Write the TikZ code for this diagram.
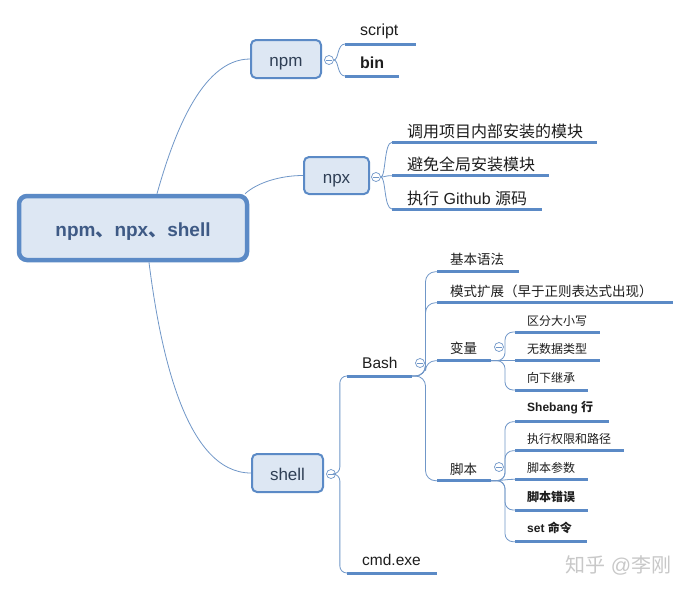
\documentclass[tikz,border=0pt]{standalone}
\usepackage{fontspec}
\setmainfont{Liberation Sans}
\newfontfamily\cjk{Noto Sans CJK SC}
\usepackage{xcolor}
\definecolor{mainblue}{HTML}{5B8AC6}
\definecolor{linec}{HTML}{7097C8}
\definecolor{nodefill}{HTML}{DDE7F3}
\definecolor{nodetext}{HTML}{2F3F55}
\definecolor{roottext}{HTML}{3E5A85}
\definecolor{leaftext}{HTML}{1E1E1E}
\definecolor{wmgray}{HTML}{C8C8C8}

\begin{document}
\begin{tikzpicture}[x=1pt, y=-1pt,
    topic/.style={rectangle, rounded corners=5, draw=mainblue, line width=2, fill=nodefill, text=nodetext, inner sep=0, text height=15pt, text depth=0pt, font=\fontsize{17}{20}\selectfont},
    root/.style={topic, rounded corners=8, line width=4.5, text=roottext, text height=16pt, font=\bfseries\fontsize{19}{22}\selectfont},
    toggle/.style={circle, draw=linec, fill=white, line width=0.7, minimum size=9, inner sep=0,
        path picture={\draw[linec, line width=0.7] ([xshift=-2.6pt]path picture bounding box.center) -- ([xshift=2.6pt]path picture bounding box.center);}},
    uline/.style={draw=mainblue, line width=3},
    branch/.style={draw=linec, line width=0.8},
    leafA/.style={anchor=west, inner sep=0, text=leaftext, font=\fontsize{16}{19}\selectfont},
    leafB/.style={anchor=west, inner sep=0, text=leaftext, font=\fontsize{15.5}{18}\selectfont},
    leafC/.style={anchor=west, inner sep=0, text=leaftext, font=\fontsize{13.5}{16}\selectfont},
    leafD/.style={anchor=west, inner sep=0, text=leaftext, font=\fontsize{12}{14}\selectfont}]
            \fill[white] (0,0) rectangle (691,590);
            \useasboundingbox (0,0) rectangle (691,590);

            % Main topics
            \node (root) [root, minimum width=228, minimum height=64] at (133,228) {npm{\cjk 、}npx{\cjk 、}shell};
            \node (npm) [topic, minimum width=70, minimum height=38] at (286,59) {npm};
            \node (npx) [topic, minimum width=65, minimum height=37] at (336.5,175.5) {npx};
            \node (shell) [topic, minimum width=71, minimum height=38] at (287.5,473) {shell};

            \draw[branch] (root.55) .. controls +(15,-53) and +(-50,0) .. (npm.west);
            \draw[branch] (root.17) .. controls +(12,-11) and +(-23,0) .. (npx.west);
            \draw[branch] (root.-65) .. controls +(11,87) and +(-66,0) .. (shell.west);

            % npm branch
            \node (script) [leafA] at (360,31) {script};
            \node (bin) [leafA] at (360,63) {\bfseries bin};
            \draw[uline] (345,44) coordinate (script-l) -- (416,44);
            \draw[uline] (345,76) coordinate (bin-l) -- (399,76);
            \node (npm-c) [toggle] at (329,60) {};
            \draw[branch] (npm-c.east) .. controls +(5,0) and +(-8,0) .. (script-l);
            \draw[branch] (npm-c.east) .. controls +(5,0) and +(-8,0) .. (bin-l);

            % npx branch
            \node (callmod) [leafA] at (407,131) {\cjk 调用项目内部安装的模块};
            \node (avoidglob) [leafA] at (407,164) {\cjk 避免全局安装模块};
            \node (rungit) [leafA] at (407,198) {{\cjk 执行} Github {\cjk 源码}};
            \draw[uline] (392,142.3) coordinate (callmod-l) -- (597,142.3);
            \draw[uline] (392,175.7) coordinate (avoidglob-l) -- (549,175.7);
            \draw[uline] (392,209) coordinate (rungit-l) -- (542,209);
            \node (npx-c) [toggle] at (376,177) {};
            \draw[branch] (npx-c.east) .. controls +(5,0) and +(-8,0) .. (callmod-l);
            \draw[branch] (npx-c.east) .. controls +(5,0) and +(-8,0) .. (avoidglob-l);
            \draw[branch] (npx-c.east) .. controls +(5,0) and +(-8,0) .. (rungit-l);

            % shell branch
            \node (bash) [leafB] at (362,363) {Bash};
            \node (cmd) [leafB] at (362,560) {cmd.exe};
            \draw[uline] (347,376) coordinate (bash-l) -- (412,376) coordinate (bash-r);
            \draw[uline] (347,573) coordinate (cmd-l) -- (437,573);
            \node (shell-c) [toggle] at (331,474) {};
            \draw[branch, rounded corners=7] (shell-c.east) -- ++(4,0) |- (bash-l);
            \draw[branch, rounded corners=7] (shell-c.east) -- ++(4,0) |- (cmd-l);

            % Bash topics
            \node (syntax) [leafC] at (450,259) {\cjk 基本语法};
            \node (expand) [leafC] at (450,291.7) {\cjk 模式扩展（早于正则表达式出现）};
            \node (vars) [leafC] at (450,348) {\cjk 变量};
            \node (shscript) [leafC] at (450,469) {\cjk 脚本};
            \draw[uline] (437,271.7) coordinate (syntax-l) -- (519,271.7);
            \draw[uline] (437,302.7) coordinate (expand-l) -- (673,302.7);
            \draw[uline] (437,360.7) coordinate (vars-l) -- (491,360.7) coordinate (vars-r);
            \draw[uline] (437,480.7) coordinate (shscript-l) -- (491,480.7) coordinate (shscript-r);
            \draw[branch, rounded corners=10] (bash-r) -- ++(13.5,0) |- (syntax-l);
            \draw[branch, rounded corners=10] (bash-r) -- ++(13.5,0) |- (expand-l);
            \draw[branch, rounded corners=10] (bash-r) -- ++(13.5,0) |- (vars-l);
            \draw[branch, rounded corners=10] (bash-r) -- ++(13.5,0) |- (shscript-l);
            \node (bash-c) [toggle] at (420,363) {};

            % Variables
            \node (case) [leafD] at (527,320.7) {\cjk 区分大小写};
            \node (notype) [leafD] at (527,349) {\cjk 无数据类型};
            \node (inherit) [leafD] at (527,378) {\cjk 向下继承};
            \draw[uline] (515,332) coordinate (case-l) -- (600,332);
            \draw[uline] (515,360.7) coordinate (notype-l) -- (600,360.7);
            \draw[uline] (515,390) coordinate (inherit-l) -- (588,390);
            \draw[branch, rounded corners=8] (vars-r) -- ++(14,0) |- (case-l);
            \draw[branch] (vars-r) -- (notype-l);
            \draw[branch, rounded corners=8] (vars-r) -- ++(14,0) |- (inherit-l);
            \node (vars-c) [toggle] at (499,347) {};

            % Scripts
            \node (shebang) [leafD] at (527,408) {\bfseries Shebang {\cjk 行}};
            \node (perm) [leafD] at (527,439) {\cjk 执行权限和路径};
            \node (args) [leafD] at (527,467.7) {\cjk 脚本参数};
            \node (errors) [leafD] at (527,497) {\bfseries\cjk 脚本错误};
            \node (setcmd) [leafD] at (527,528) {\bfseries set {\cjk 命令}};
            \draw[uline] (515,421.7) coordinate (shebang-l) -- (609,421.7);
            \draw[uline] (515,450.7) coordinate (perm-l) -- (624,450.7);
            \draw[uline] (515,479.3) coordinate (args-l) -- (588,479.3);
            \draw[uline] (515,510) coordinate (errors-l) -- (588,510);
            \draw[uline] (515,541.7) coordinate (setcmd-l) -- (587,541.7);
            \draw[branch, rounded corners=8] (shscript-r) -- ++(14,0) |- (shebang-l);
            \draw[branch, rounded corners=8] (shscript-r) -- ++(14,0) |- (perm-l);
            \draw[branch] (shscript-r) .. controls +(12,0) and +(-10,0) .. (args-l);
            \draw[branch, rounded corners=8] (shscript-r) -- ++(14,0) |- (errors-l);
            \draw[branch, rounded corners=8] (shscript-r) -- ++(14,0) |- (setcmd-l);
            \node (shscript-c) [toggle] at (499,467) {};

            % Watermark
            \node (mark) [anchor=west, inner sep=0, text=wmgray, font=\fontsize{20}{23}\selectfont] at (565,565) {{\cjk 知乎} @{\cjk 李刚}};
        \end{tikzpicture}
\end{document}
